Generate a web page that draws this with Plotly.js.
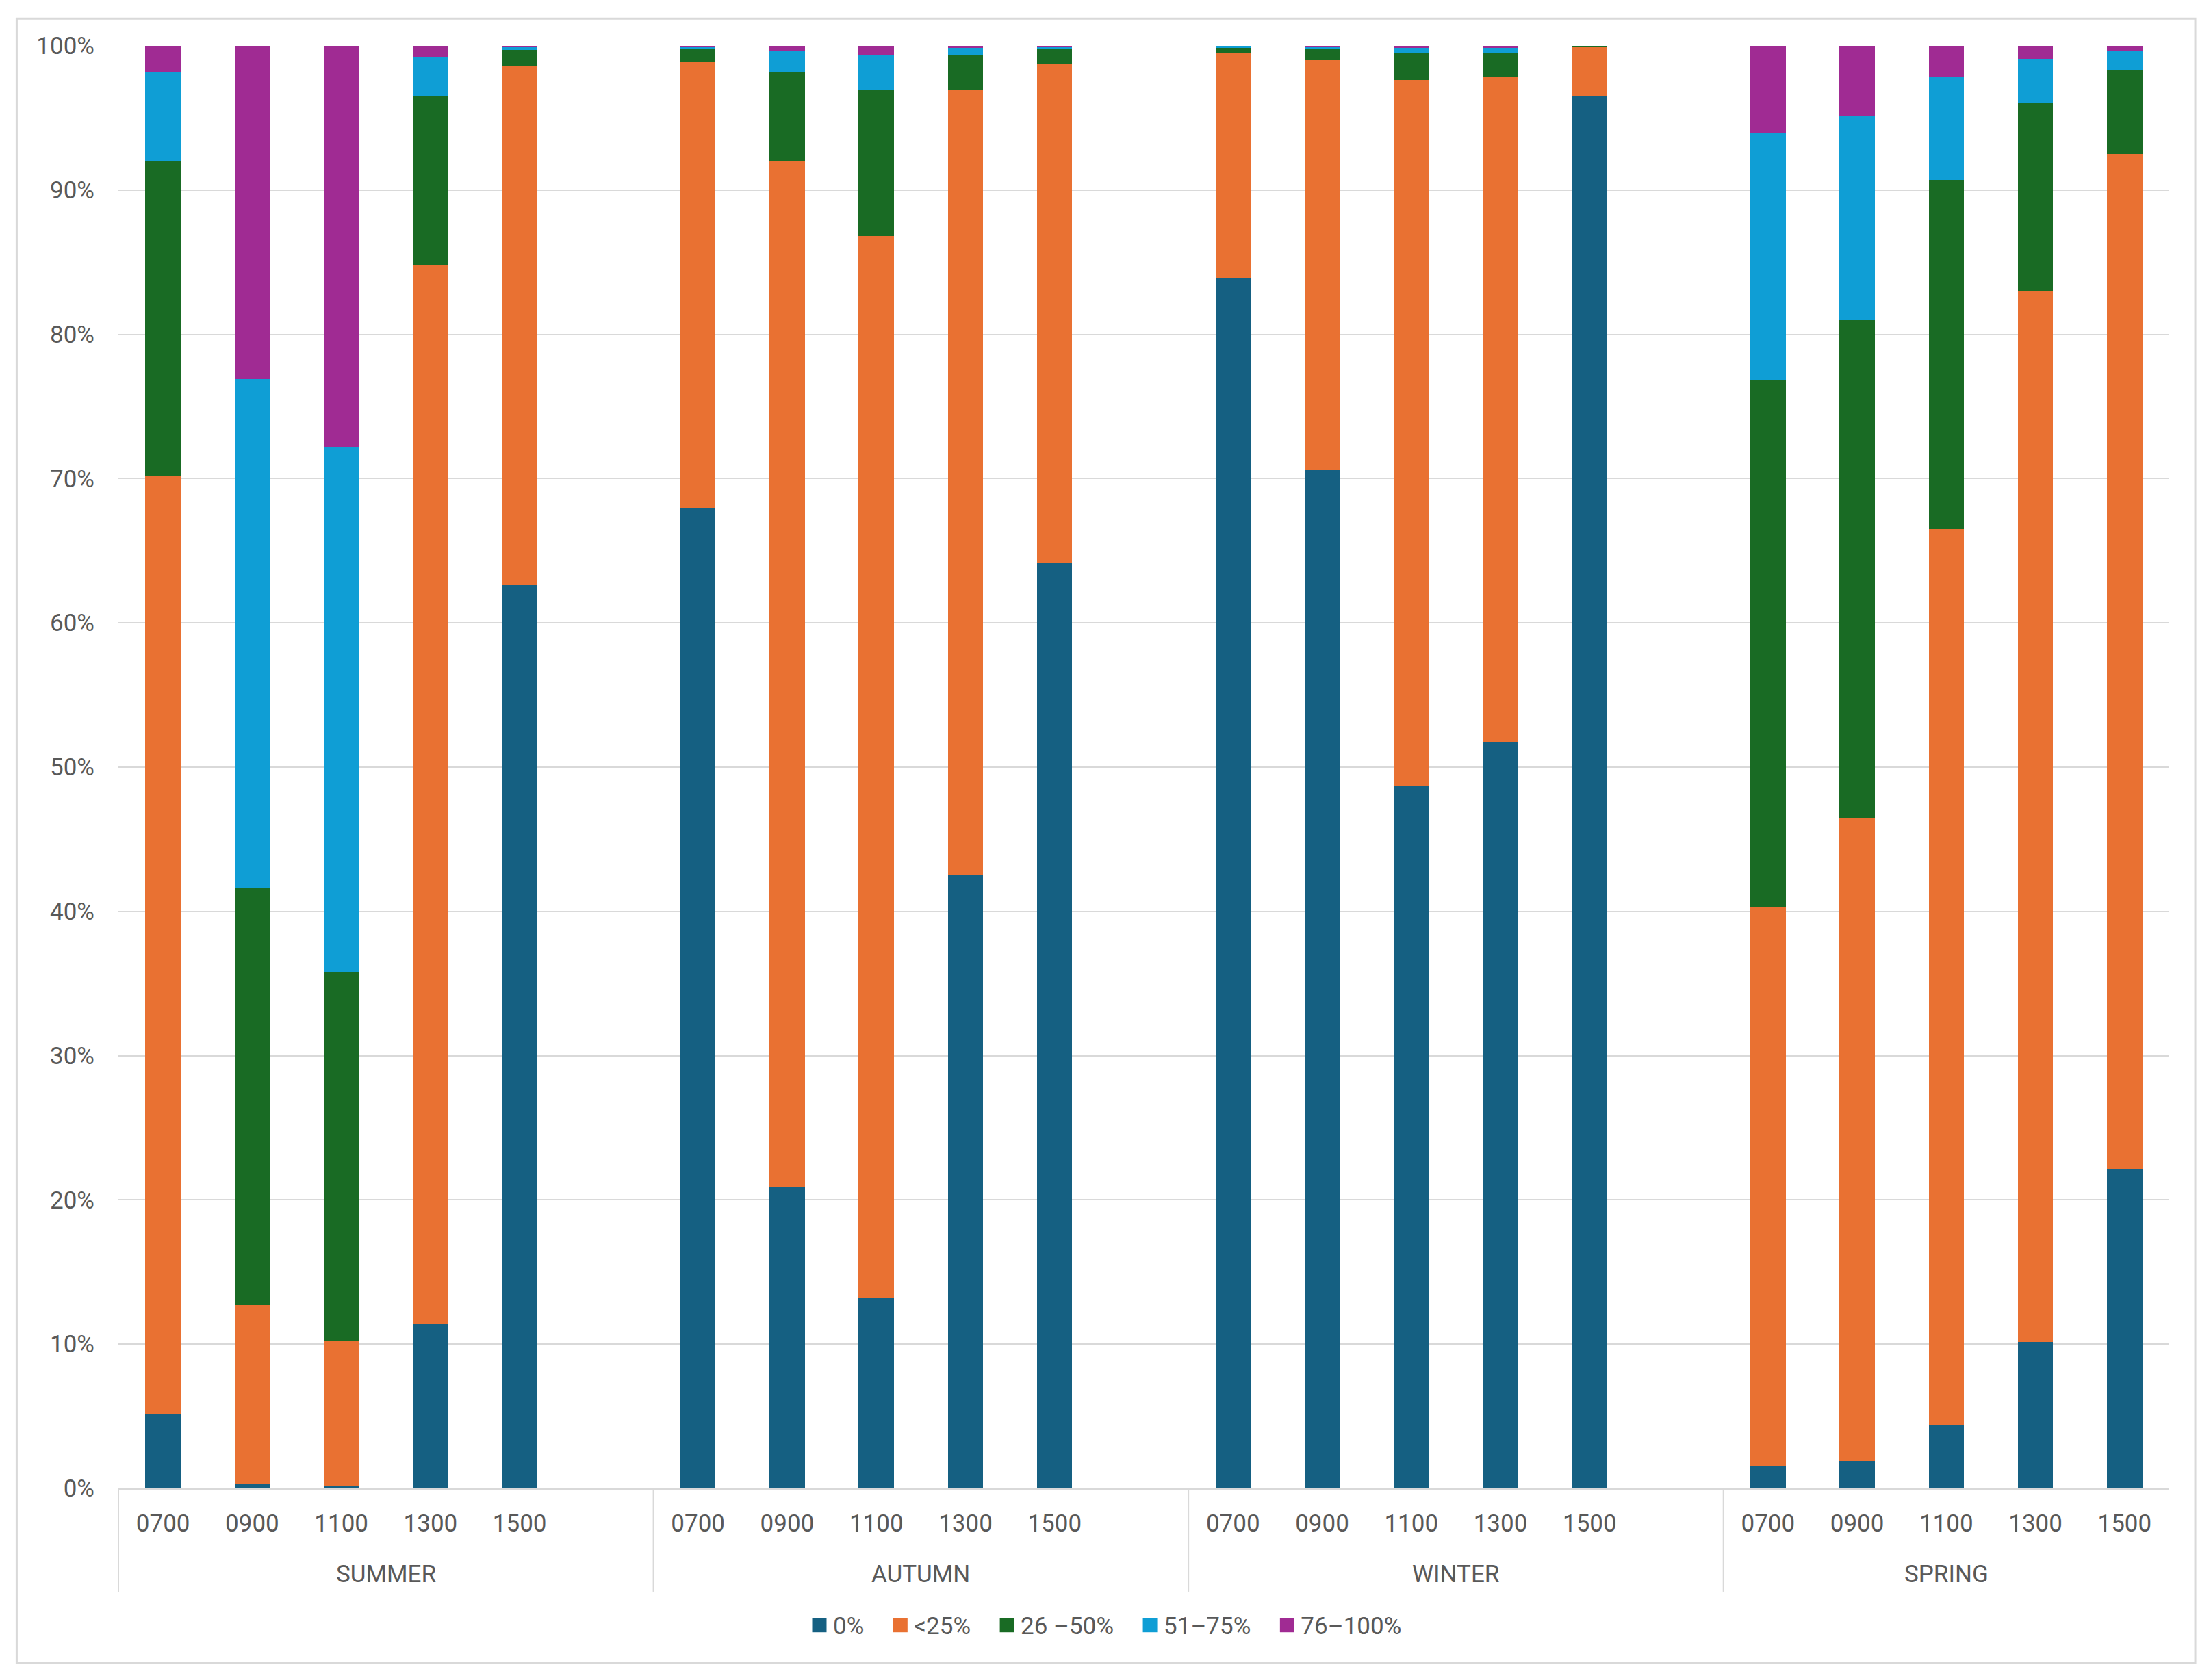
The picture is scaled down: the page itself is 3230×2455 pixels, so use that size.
<!DOCTYPE html>
<html>
<head>
<meta charset="utf-8">
<script src="https://cdn.plot.ly/plotly-3.0.1.min.js"></script>
<style>
  html, body { margin: 0; padding: 0; background: #ffffff; }
  #chart { width: 3230px; height: 2455px; }
</style>
</head>
<body>
<div id="chart"></div>
<script>
// ---- Data (percent of observations per cover class) ----
const seasons = ["SUMMER", "AUTUMN", "WINTER", "SPRING"];
const times = ["0700", "0900", "1100", "1300", "1500"];
const seriesNames = ["0%", "<25%", "26 \u201350%", "51\u201375%", "76\u2013100%"];
const seriesColors = ["#156082", "#E97132", "#196B24", "#0F9ED5", "#A02B93"];

// values per series, ordered SUMMER 0700..1500, AUTUMN ..., WINTER ..., SPRING ...
const zeroPct = [
  5.1, 0.3, 0.2, 11.4, 62.6,
  68.0, 20.9, 13.2, 42.5, 64.2,
  83.9, 70.6, 48.7, 51.7, 96.5,
  1.5, 1.9, 4.35, 10.16, 22.1
];
const under25 = [
  65.1, 12.4, 10.0, 73.4, 36.0,
  30.9, 71.1, 73.6, 54.45, 34.5,
  15.6, 28.44, 48.9, 46.15, 3.4,
  38.8, 44.6, 62.15, 72.84, 70.4
];
const pct26to50 = [
  21.8, 28.9, 25.6, 11.7, 1.1,
  0.85, 6.2, 10.15, 2.42, 1.04,
  0.38, 0.71, 1.9, 1.66, 0.1,
  36.55, 34.5, 24.2, 13.0, 5.83
];
const pct51to75 = [
  6.2, 35.3, 36.4, 2.7, 0.2,
  0.2, 1.4, 2.37, 0.47, 0.2,
  0.1, 0.2, 0.33, 0.33, 0.0,
  17.05, 14.15, 7.09, 3.08, 1.28
];
const pct76to100 = [
  1.8, 23.1, 27.8, 0.8, 0.1,
  0.05, 0.4, 0.68, 0.16, 0.05,
  0.02, 0.05, 0.16, 0.16, 0.0,
  6.08, 4.85, 2.2, 0.92, 0.4
];
const seriesValues = [zeroPct, under25, pct26to50, pct51to75, pct76to100];

// ---- Build category positions (one empty slot after each season group) ----
const slotsPerGroup = times.length + 1;
const xPos = [];
const tickText = [];
seasons.forEach((s, g) => {
  times.forEach((t, i) => {
    xPos.push(g * slotsPerGroup + i);
    tickText.push(t);
  });
});
const xMax = (seasons.length - 1) * slotsPerGroup + times.length - 0.5;

const textColor = "#595959";
const gridColor = "#D9D9D9";
const fontFamily = "Roboto, 'Noto Sans', sans-serif";

const traces = seriesNames.map((name, k) => ({
  type: "bar",
  name: name,
  x: xPos,
  y: seriesValues[k],
  marker: { color: seriesColors[k], line: { width: 0 } },
  hovertemplate: "%{y:.1f}%<extra>" + name + "</extra>"
}));

// ---- Season labels and group dividers ----
const annotations = [];
const shapes = [];
const dividerDepth = -0.0716;
seasons.forEach((s, g) => {
  const start = g * slotsPerGroup - 0.5;
  const end = Math.min(start + slotsPerGroup, xMax);
  annotations.push({
    text: s, xref: "x", yref: "paper", x: (start + end) / 2, y: -0.0593,
    xanchor: "center", yanchor: "middle", showarrow: false,
    font: { family: fontFamily, size: 35, color: textColor }
  });
  shapes.push({
    type: "line", xref: "x", yref: "paper", x0: start, x1: start, y0: 0, y1: dividerDepth,
    line: { color: gridColor, width: 2 }
  });
});
shapes.push({
  type: "line", xref: "x", yref: "paper", x0: xMax, x1: xMax, y0: 0, y1: dividerDepth,
  line: { color: gridColor, width: 2 }
});
// chart area border
shapes.push({
  type: "rect", xref: "paper", yref: "paper",
  x0: -0.0496, x1: 1.0127, y0: -0.121, y1: 1.0188,
  line: { color: gridColor, width: 3 }, fillcolor: "rgba(0,0,0,0)", layer: "below"
});

const layout = {
  width: 3230,
  height: 2455,
  margin: { l: 173, r: 61, t: 67, b: 280 },
  paper_bgcolor: "#ffffff",
  plot_bgcolor: "#ffffff",
  barmode: "stack",
  barnorm: "percent",
  bargap: 0.605,
  font: { family: fontFamily, size: 35, color: textColor },
  xaxis: {
    range: [-0.5, xMax],
    tickmode: "array",
    tickvals: xPos,
    ticktext: tickText,
    ticks: "",
    showgrid: false,
    zeroline: false,
    showline: true,
    linecolor: gridColor,
    linewidth: 3,
    ticklabelstandoff: 18,
    tickfont: { family: fontFamily, size: 35, color: textColor },
    fixedrange: true
  },
  yaxis: {
    range: [0, 100],
    dtick: 10,
    ticksuffix: "%",
    ticks: "",
    showgrid: true,
    gridcolor: gridColor,
    gridwidth: 2,
    zeroline: false,
    showline: false,
    ticklabelstandoff: 34,
    tickfont: { family: fontFamily, size: 35, color: textColor },
    fixedrange: true
  },
  legend: {
    orientation: "h",
    xref: "container", yref: "container",
    x: 0.5, xanchor: "center",
    y: 0.0326, yanchor: "middle",
    font: { family: fontFamily, size: 35, color: textColor },
    bgcolor: "rgba(0,0,0,0)",
    traceorder: "normal",
    itemclick: false, itemdoubleclick: false
  },
  annotations: annotations,
  shapes: shapes,
  showlegend: true
};

Plotly.newPlot("chart", traces, layout, { displayModeBar: false, staticPlot: true }).then(() => {
  // let legend entries extend past the default legend box
  document.querySelectorAll(".legend, .legend .scrollbox").forEach(el => {
    el.removeAttribute("clip-path");
    el.style.clipPath = "none";
  });
  // enlarge the legend swatches to match the reference's square markers
  document.querySelectorAll(".legend .legendpoints path").forEach(p => {
    const t = p.getAttribute("transform") || "";
    p.setAttribute("transform", t + " scale(1.75)");
  });
  // widen the spacing between legend entries, keeping the legend centred
  const items = Array.from(document.querySelectorAll(".legend .traces"));
  const extra = 28;
  const shift = -extra * (items.length - 1) / 2;
  items.forEach((g, i) => {
    const t = g.getAttribute("transform") || "";
    const m = /translate\(\s*([-\d.]+)[ ,]+([-\d.]+)\s*\)/.exec(t);
    if (m) {
      const nx = parseFloat(m[1]) + i * extra + shift;
      g.setAttribute("transform", "translate(" + nx + "," + m[2] + ")");
    }
  });
});
</script>
</body>
</html>
